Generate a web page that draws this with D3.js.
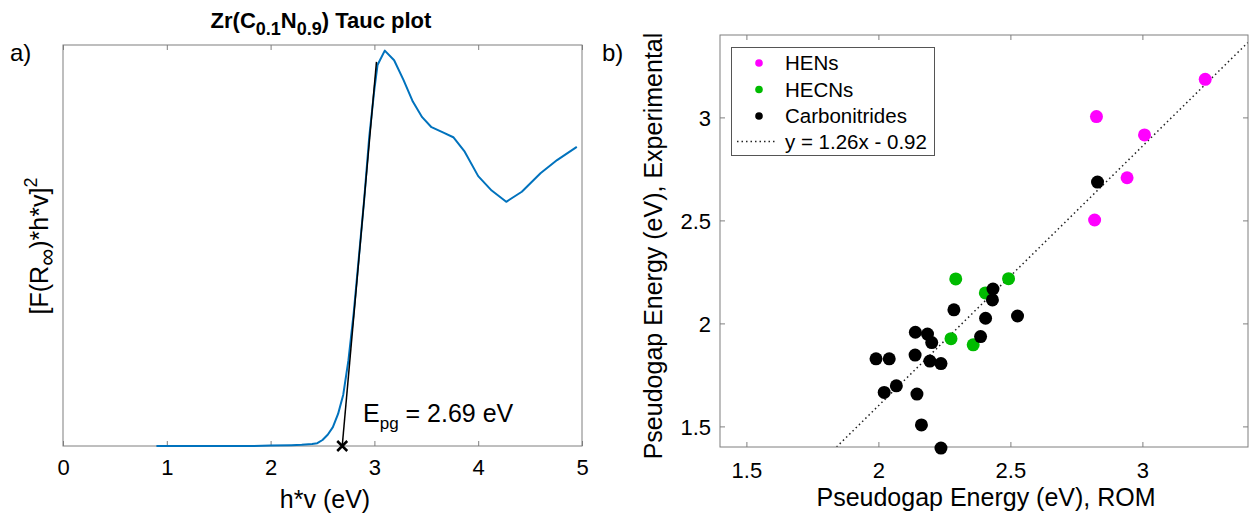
<!DOCTYPE html>
<html>
<head>
<meta charset="utf-8">
<script src="https://cdn.jsdelivr.net/npm/d3@7"></script>
<style>
  html, body { margin: 0; padding: 0; background: #fff; }
  svg { display: block; font-family: "Liberation Sans", Arial, Helvetica, sans-serif; }
</style>
</head>
<body>
<svg id="chart" width="1249" height="519"></svg>
<script>
// ---------- Data (panel a: Tauc plot) ----------
const taucHv = [0.9, 1.2, 1.5, 1.8, 2.0, 2.2, 2.3, 2.4, 2.45, 2.5, 2.55, 2.6, 2.65, 2.7, 2.75,
                2.8, 2.85, 2.9, 2.95, 3.0, 3.03, 3.1, 3.19, 3.28, 3.37, 3.46, 3.55, 3.66, 3.76,
                3.87, 4.0, 4.13, 4.27, 4.42, 4.6, 4.76, 4.95];
const taucF  = [0.0, 0.0, 0.0, 0.0, 0.001, 0.002, 0.003, 0.005, 0.007, 0.015, 0.028, 0.047, 0.08, 0.128, 0.214,
                0.33, 0.47, 0.61, 0.77, 0.89, 0.95, 0.986, 0.962, 0.913, 0.859, 0.82, 0.795, 0.782, 0.770,
                0.734, 0.673, 0.637, 0.609, 0.634, 0.68, 0.713, 0.746];
const tangentHv = [2.69, 3.02];
const tangentF  = [0.0, 0.958];
const epg = 2.69;
const taucXTicks = [0, 1, 2, 3, 4, 5];

// ---------- Data (panel b: scatter) ----------
const hensROM = [3.238, 2.826, 3.008, 2.942, 2.819];
const hensExp = [3.185, 3.004, 2.915, 2.707, 2.502];
const hecnsROM = [2.293, 2.493, 2.405, 2.275, 2.359];
const hecnsExp = [2.216, 2.217, 2.148, 1.926, 1.896];
const carboROM = [2.830, 2.434, 2.432, 2.286, 2.406, 2.527, 2.140, 2.186, 2.202, 2.387,
                  1.991, 2.041, 2.139, 2.195, 2.237, 2.068, 2.022, 2.146, 2.163, 2.237];
const carboExp = [2.686, 2.167, 2.114, 2.066, 2.025, 2.036, 1.957, 1.948, 1.907, 1.936,
                  1.828, 1.828, 1.846, 1.817, 1.805, 1.697, 1.665, 1.657, 1.507, 1.395];
const fitSlope = 1.26, fitIntercept = -0.92;
const scatterTicks = [1.5, 2, 2.5, 3];
const legendLabels = ["HENs", "HECNs", "Carbonitrides", "y = 1.26x - 0.92"];
const seriesColors = ["#ff00ff", "#00bb00", "#000000"];

const svg = d3.select("#chart");
const boxColor = "#7f7f7f";
const tickFont = 22;

// ================= Panel a =================
const xL = d3.scaleLinear().domain([0, 5]).range([63, 582]);
const yL = d3.scaleLinear().domain([0, 1]).range([446, 45]);

const gA = svg.append("g");
const axB = gA.append("g").attr("transform", `translate(0,${yL(0)})`)
  .call(d3.axisBottom(xL).tickValues(taucXTicks).tickSize(-5).tickSizeOuter(0).tickFormat(d3.format("d")));
const axT = gA.append("g").attr("transform", `translate(0,${yL(1)})`)
  .call(d3.axisTop(xL).tickValues(taucXTicks).tickSize(-5).tickSizeOuter(0).tickFormat(""));
[axB, axT].forEach(a => {
  a.select(".domain").remove();
  a.selectAll(".tick line").attr("stroke", boxColor);
});
axB.selectAll(".tick text").attr("font-size", tickFont).attr("fill", "#000")
  .attr("y", 0).attr("dy", 0).attr("transform", "translate(0,29)")
  .attr("font-family", "Liberation Sans, Arial, sans-serif");
gA.append("rect").attr("x", xL(0)).attr("y", yL(1)).attr("width", xL(5) - xL(0)).attr("height", yL(0) - yL(1))
  .attr("fill", "none").attr("stroke", boxColor).attr("stroke-width", 1);

const taucPts = taucHv.map((h, i) => [h, taucF[i]]);
gA.append("path").datum(taucPts)
  .attr("d", d3.line().x(d => xL(d[0])).y(d => yL(d[1])))
  .attr("fill", "none").attr("stroke", "#0072BD").attr("stroke-width", 2).attr("stroke-linejoin", "round");
const tanPts = tangentHv.map((h, i) => [h, tangentF[i]]);
gA.append("path").datum(tanPts)
  .attr("d", d3.line().x(d => xL(d[0])).y(d => yL(d[1])))
  .attr("fill", "none").attr("stroke", "#000").attr("stroke-width", 1.5);
const mx = xL(epg), my = yL(0), ms = 5;
gA.append("path").attr("d", `M${mx - ms},${my - ms}L${mx + ms},${my + ms}M${mx - ms},${my + ms}L${mx + ms},${my - ms}`)
  .attr("stroke", "#000").attr("stroke-width", 2.5).attr("fill", "none");

const ann = gA.append("text").attr("x", 363).attr("y", 422).attr("font-size", 25).attr("fill", "#000");
ann.append("tspan").text("E");
ann.append("tspan").attr("font-size", 17).attr("dy", 7).text("pg");
ann.append("tspan").attr("dy", -7).text(" = " + epg.toFixed(2) + " eV");

const title = gA.append("text").attr("x", 321).attr("y", 28).attr("text-anchor", "middle")
  .attr("font-size", 22).attr("font-weight", "bold").attr("fill", "#000");
title.append("tspan").text("Zr(C");
title.append("tspan").attr("font-size", 18).attr("dy", 7).text("0.1");
title.append("tspan").attr("dy", -7).text("N");
title.append("tspan").attr("font-size", 18).attr("dy", 7).text("0.9");
title.append("tspan").attr("dy", -7).text(") Tauc plot");

gA.append("text").attr("x", 325).attr("y", 508).attr("text-anchor", "middle").attr("font-size", 25)
  .attr("fill", "#000").text("h*v (eV)");
const yla = gA.append("text").attr("transform", "translate(48,246) rotate(-90)").attr("text-anchor", "middle")
  .attr("font-size", 25).attr("fill", "#000");
yla.append("tspan").text("[F(R");
yla.append("tspan").attr("font-size", 24).attr("dy", 7).text("∞");
yla.append("tspan").attr("dy", -7).text(")*h*v]");
yla.append("tspan").attr("font-size", 18).attr("dy", -11).text("2");

gA.append("text").attr("x", 10).attr("y", 61).attr("font-size", 24).attr("fill", "#000").text("a)");

// ================= Panel b =================
const xR = d3.scaleLinear().domain([1.4, 3.4]).range([720, 1248]);
const yR = d3.scaleLinear().domain([1.4, 3.4]).range([447, 35]);
const gB = svg.append("g");

const bx = gB.append("g").attr("transform", `translate(0,${yR(1.4)})`)
  .call(d3.axisBottom(xR).tickValues(scatterTicks).tickSize(-5).tickSizeOuter(0).tickFormat(d3.format("")));
const tx = gB.append("g").attr("transform", `translate(0,${yR(3.4)})`)
  .call(d3.axisTop(xR).tickValues(scatterTicks).tickSize(-5).tickSizeOuter(0).tickFormat(""));
const ly = gB.append("g").attr("transform", `translate(${xR(1.4)},0)`)
  .call(d3.axisLeft(yR).tickValues(scatterTicks).tickSize(-5).tickSizeOuter(0).tickFormat(d3.format("")));
const ry = gB.append("g").attr("transform", `translate(${xR(3.4)},0)`)
  .call(d3.axisRight(yR).tickValues(scatterTicks).tickSize(-5).tickSizeOuter(0).tickFormat(""));
[bx, tx, ly, ry].forEach(a => {
  a.select(".domain").remove();
  a.selectAll(".tick line").attr("stroke", boxColor);
});
bx.selectAll(".tick text").attr("font-size", tickFont).attr("fill", "#000")
  .attr("y", 0).attr("dy", 0).attr("transform", "translate(0,31)")
  .attr("font-family", "Liberation Sans, Arial, sans-serif");
ly.selectAll(".tick text").attr("font-size", tickFont).attr("fill", "#000")
  .attr("x", 0).attr("transform", "translate(-9,0)").attr("dy", "0.36em")
  .attr("font-family", "Liberation Sans, Arial, sans-serif");

gB.append("defs").append("clipPath").attr("id", "clipB").append("rect")
  .attr("x", xR(1.4)).attr("y", yR(3.4)).attr("width", xR(3.4) - xR(1.4)).attr("height", yR(1.4) - yR(3.4));

const fitX = [(1.4 - fitIntercept) / fitSlope, 3.4];
gB.append("line").attr("clip-path", "url(#clipB)")
  .attr("x1", xR(fitX[0])).attr("y1", yR(fitSlope * fitX[0] + fitIntercept))
  .attr("x2", xR(fitX[1])).attr("y2", yR(fitSlope * fitX[1] + fitIntercept))
  .attr("stroke", "#222").attr("stroke-width", 1.5).attr("stroke-dasharray", "1.5,3");

gB.append("rect").attr("x", xR(1.4)).attr("y", yR(3.4)).attr("width", xR(3.4) - xR(1.4)).attr("height", yR(1.4) - yR(3.4))
  .attr("fill", "none").attr("stroke", boxColor).attr("stroke-width", 1);

const series = [[hensROM, hensExp], [hecnsROM, hecnsExp], [carboROM, carboExp]];
series.forEach((s, k) => {
  const pts = s[0].map((x, i) => [x, s[1][i]]);
  gB.append("g").selectAll("circle").data(pts).join("circle")
    .attr("cx", d => xR(d[0])).attr("cy", d => yR(d[1])).attr("r", 6.5)
    .attr("fill", seriesColors[k]);
});

const lg = gB.append("g");
lg.append("rect").attr("x", 731.5).attr("y", 47.5).attr("width", 203).attr("height", 108)
  .attr("fill", "#fff").attr("stroke", "#555").attr("stroke-width", 1);
const rowY = [63, 89.5, 116, 141.5];
legendLabels.forEach((lab, i) => {
  if (i < 3) {
    lg.append("circle").attr("cx", 759).attr("cy", rowY[i]).attr("r", 3.8).attr("fill", seriesColors[i]);
  } else {
    lg.append("line").attr("x1", 737).attr("x2", 777).attr("y1", rowY[i]).attr("y2", rowY[i])
      .attr("stroke", "#222").attr("stroke-width", 1.5).attr("stroke-dasharray", "1.5,3");
  }
  lg.append("text").attr("x", 785).attr("y", rowY[i]).attr("dy", "0.36em").attr("font-size", 20.5)
    .attr("fill", "#000").text(lab);
});

gB.append("text").attr("x", 986).attr("y", 506).attr("text-anchor", "middle").attr("font-size", 25)
  .attr("fill", "#000").text("Pseudogap Energy (eV), ROM");
gB.append("text").attr("transform", "translate(662,246) rotate(-90)").attr("text-anchor", "middle")
  .attr("font-size", 25).attr("fill", "#000").text("Pseudogap Energy (eV), Experimental");
gB.append("text").attr("x", 602).attr("y", 61).attr("font-size", 24).attr("fill", "#000").text("b)");
</script>
</body>
</html>
